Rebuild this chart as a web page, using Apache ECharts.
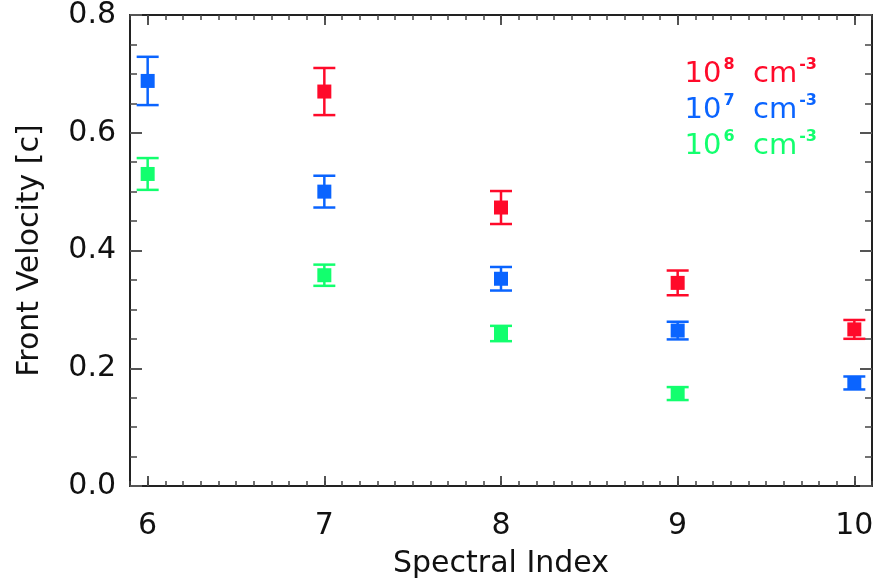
<!DOCTYPE html>
<html>
<head>
<meta charset="utf-8">
<script src="https://cdn.jsdelivr.net/npm/echarts@6/dist/echarts.min.js"></script>
<style>
  html, body { margin: 0; padding: 0; background: #fff; }
  #chart { width: 877px; height: 584px; }
</style>
</head>
<body>
<div id="chart"></div>
<script>
// ---- Data ----
const spectralIndex = [6, 7, 8, 9, 10];
const xTicks = [6, 7, 8, 9, 10];
const yTicks = [0.0, 0.2, 0.4, 0.6, 0.8];

// 10^8 cm^-3 (red)
const vel8 = [null, 0.670, 0.473, 0.345, 0.266];
const err8 = [null, 0.040, 0.028, 0.021, 0.016];
// 10^7 cm^-3 (blue)
const vel7 = [0.688, 0.500, 0.352, 0.264, 0.175];
const err7 = [0.041, 0.027, 0.020, 0.015, 0.011];
// 10^6 cm^-3 (green)
const vel6 = [0.530, 0.358, 0.259, 0.157, null];
const err6 = [0.027, 0.018, 0.013, 0.011, null];

const seriesNames = ['10^8 cm^-3', '10^7 cm^-3', '10^6 cm^-3'];
const seriesColors = ['#ff0a2a', '#0a64ff', '#12ff6e'];

// ---- Build ----
const FONT = 'DejaVu Sans';
const minorX = [];
for (let i = 59; i <= 101; i++) minorX.push(i / 10);

function build(vals, errs) {
  const out = [];
  spectralIndex.forEach((x, i) => {
    if (vals[i] != null) out.push([x, vals[i], errs[i]]);
  });
  return out;
}

function renderErr(color) {
  return function (params, api) {
    const x = api.value(0), y = api.value(1), e = api.value(2);
    const top = api.coord([x, y + e]);
    const bot = api.coord([x, y - e]);
    const c = api.coord([x, y]);
    const cap = 11, sq = 7;
    const ls = { stroke: color, lineWidth: 2.5 };
    return {
      type: 'group',
      children: [
        { type: 'line', shape: { x1: top[0], y1: top[1], x2: bot[0], y2: bot[1] }, style: ls },
        { type: 'line', shape: { x1: top[0] - cap, y1: top[1], x2: top[0] + cap, y2: top[1] }, style: ls },
        { type: 'line', shape: { x1: bot[0] - cap, y1: bot[1], x2: bot[0] + cap, y2: bot[1] }, style: ls },
        { type: 'rect', shape: { x: c[0] - sq, y: c[1] - sq, width: 2 * sq, height: 2 * sq }, style: { fill: color } }
      ]
    };
  };
}

const datasets = [build(vel8, err8), build(vel7, err7), build(vel6, err6)];

function legendText(name) {
  const m = name.match(/^10\^(\d) cm\^(-\d)$/);
  return '{b|10}{s|' + m[1] + '}{b|  cm}{s|' + m[2] + '}';
}

const axisLineStyle = { color: '#222', width: 2 };
const majorTick = { show: true, inside: true, length: 12, lineStyle: { color: '#555', width: 2 } };
const minorTickStyle = { color: '#444', width: 1.5 };

const chart = echarts.init(document.getElementById('chart'), null, { renderer: 'canvas' });
const option = {
  animation: false,
  backgroundColor: '#fff',
  grid: { left: 130, right: 5, top: 10, bottom: 97, containLabel: false },
  xAxis: [
    {
      type: 'value', min: 5.9, max: 10.1, position: 'bottom',
      name: 'Spectral Index', nameLocation: 'middle', nameGap: 63,
      nameTextStyle: { fontFamily: FONT, fontSize: 30, color: '#111' },
      axisLine: { show: true, lineStyle: axisLineStyle },
      axisTick: Object.assign({}, majorTick, { length: 10, customValues: xTicks }),
      axisLabel: { customValues: xTicks, fontFamily: FONT, fontSize: 30, color: '#111', margin: 25 },
      splitLine: { show: false }
    },
    {
      type: 'value', min: 5.9, max: 10.1, position: 'bottom',
      axisLine: { show: false },
      axisTick: { show: true, inside: true, length: 5, customValues: minorX, lineStyle: minorTickStyle },
      axisLabel: { show: false },
      splitLine: { show: false }
    },
    {
      type: 'value', min: 5.9, max: 10.1, position: 'top',
      axisLine: { show: true, onZero: false, lineStyle: axisLineStyle },
      axisTick: Object.assign({}, majorTick, { length: 10, customValues: xTicks }),
      axisLabel: { show: false },
      splitLine: { show: false }
    },
    {
      type: 'value', min: 5.9, max: 10.1, position: 'top',
      axisLine: { show: false },
      axisTick: { show: true, inside: true, length: 5, customValues: minorX, lineStyle: minorTickStyle },
      axisLabel: { show: false },
      splitLine: { show: false }
    }
  ],
  yAxis: [
    {
      type: 'value', min: 0, max: 0.8, interval: 0.2, position: 'left',
      name: 'Front Velocity [c]', nameLocation: 'middle', nameGap: 85, nameRotate: 90,
      nameTextStyle: { fontFamily: FONT, fontSize: 30, color: '#111' },
      axisLine: { show: true, onZero: false, lineStyle: axisLineStyle },
      axisTick: majorTick,
      minorTick: { show: true, splitNumber: 4, length: 7, lineStyle: minorTickStyle },
      axisLabel: { fontFamily: FONT, fontSize: 30, color: '#111', margin: 14,
        formatter: v => v.toFixed(1) },
      splitLine: { show: false }, minorSplitLine: { show: false }
    },
    {
      type: 'value', min: 0, max: 0.8, interval: 0.2, position: 'right',
      axisLine: { show: true, onZero: false, lineStyle: axisLineStyle },
      axisTick: majorTick,
      minorTick: { show: true, splitNumber: 4, length: 7, lineStyle: minorTickStyle },
      axisLabel: { show: false },
      splitLine: { show: false }, minorSplitLine: { show: false }
    }
  ],
  series: datasets.map((d, i) => ({
    name: seriesNames[i],
    type: 'custom',
    xAxisIndex: 0, yAxisIndex: 0,
    renderItem: renderErr(seriesColors[i]),
    encode: { x: 0, y: 1 },
    data: d,
    z: 10
  })),
  graphic: seriesNames.map((n, i) => ({
    type: 'text',
    right: 60,
    top: 57 + i * 36,
    style: {
      text: legendText(n),
      fill: seriesColors[i],
      rich: {
        b: { fontFamily: FONT, fontSize: 29, color: seriesColors[i], lineHeight: 32, verticalAlign: 'bottom' },
        s: { fontFamily: FONT, fontSize: 16, fontWeight: 'bold', color: seriesColors[i], lineHeight: 32, verticalAlign: 'top', padding: [0, 0, 14, 2] }
      }
    }
  }))
};
chart.setOption(option);
</script>
</body>
</html>
